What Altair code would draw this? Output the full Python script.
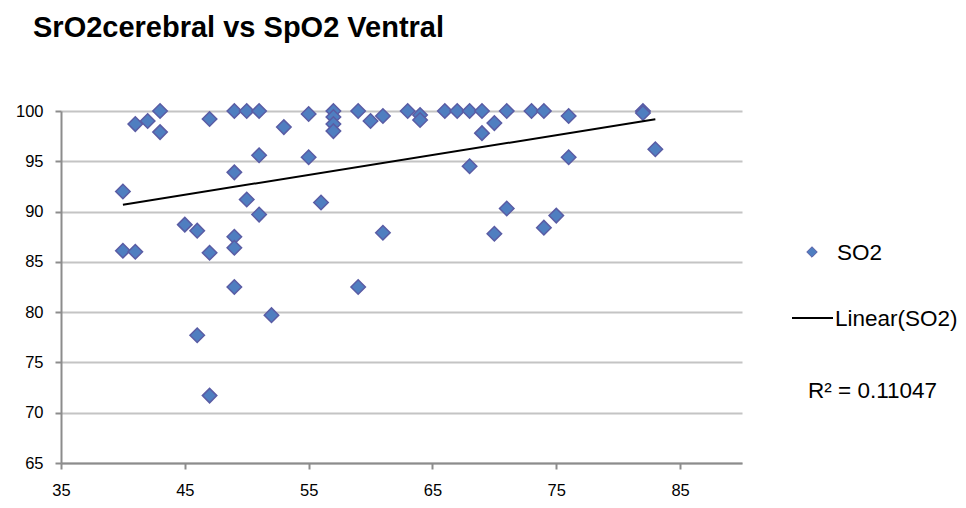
import altair as alt
import pandas as pd

# Data
x_vals = [40, 40, 41, 41, 42, 43, 43, 45, 46, 46,
          47, 47, 47, 49, 49, 49, 49, 49, 50, 50,
          51, 51, 51, 52, 53, 55, 55, 56, 57, 57,
          57, 57, 59, 59, 60, 61, 61, 63, 64, 64,
          66, 67, 68, 68, 69, 69, 70, 70, 71, 71,
          73, 74, 74, 75, 76, 76, 82, 82, 83]
y_vals = [92.0, 86.1, 86.0, 98.7, 99.0, 100.0, 97.9, 88.7, 88.1, 77.7,
          99.2, 85.9, 71.7, 100.0, 93.9, 87.5, 86.4, 82.5, 100.0, 91.2,
          100.0, 95.6, 89.7, 79.7, 98.4, 99.7, 95.4, 90.9, 100.0, 99.4,
          98.7, 98.0, 100.0, 82.5, 99.0, 99.5, 87.9, 100.0, 99.6, 99.1,
          100.0, 100.0, 100.0, 94.5, 100.0, 97.8, 98.8, 87.8, 100.0, 90.3,
          100.0, 100.0, 88.4, 89.6, 99.5, 95.4, 100.0, 99.8, 96.2]

x_ticks = [35, 45, 55, 65, 75, 85]
y_ticks = [65, 70, 75, 80, 85, 90, 95, 100]

title_text = "SrO2cerebral vs SpO2 Ventral"
legend_series = ["SO2"]
legend_trend = ["Linear(SO2)"]
r2_text = ["R\u00b2 = 0.11047"]

FONT = "Liberation Sans"
FILL = "#4F7EC0"
STROKE = "#5A5CA4"

df = pd.DataFrame({"x": x_vals, "y": y_vals})

W, H = 681, 352

xscale = alt.Scale(domain=[35, 90], nice=False, zero=False)
yscale = alt.Scale(domain=[65, 100], nice=False, zero=False)

xaxis = alt.Axis(values=x_ticks, grid=False, title=None, domainColor="#8c8c8c", domainWidth=2,
                 tickColor="#8c8c8c", tickWidth=2, tickSize=6, labelFontSize=16.5, labelFont=FONT,
                 labelColor="black", labelPadding=13, labelFlush=False, labelOverlap=False)
yaxis = alt.Axis(values=y_ticks, grid=True, gridColor="#c4c4c4", gridWidth=2, title=None,
                 domainColor="#8c8c8c", domainWidth=2, tickColor="#8c8c8c", tickWidth=2, tickSize=6,
                 labelFontSize=16.5, labelFont=FONT, labelColor="black", labelPadding=12,
                 labelFlush=False, labelOverlap=False)

base = alt.Chart(df)

points = base.mark_point(shape="diamond", filled=True, size=210, fill=FILL, stroke=STROKE,
                         strokeWidth=1.5, opacity=1).encode(
    x=alt.X("x:Q", scale=xscale, axis=xaxis),
    y=alt.Y("y:Q", scale=yscale, axis=yaxis),
)

trend = base.transform_regression("x", "y").mark_line(color="black", strokeWidth=2).encode(
    x=alt.X("x:Q", scale=xscale),
    y=alt.Y("y:Q", scale=yscale),
)

leg_sym = alt.Chart(pd.DataFrame({"t": legend_series})).mark_point(
    shape="diamond", filled=True, size=110, fill=FILL, stroke=STROKE, strokeWidth=1, opacity=1
).encode(x=alt.value(751), y=alt.value(141))

leg_txt1 = alt.Chart(pd.DataFrame({"t": legend_series})).mark_text(
    align="left", baseline="middle", fontSize=22.5, font=FONT, color="black"
).encode(x=alt.value(776), y=alt.value(142), text="t:N")

leg_line = alt.Chart(pd.DataFrame({"t": legend_trend})).mark_rule(color="black", strokeWidth=2).encode(
    x=alt.value(731), x2=alt.value(772), y=alt.value(207))

leg_txt2 = alt.Chart(pd.DataFrame({"t": legend_trend})).mark_text(
    align="left", baseline="middle", fontSize=22.5, font=FONT, color="black"
).encode(x=alt.value(774), y=alt.value(208), text="t:N")

leg_txt3 = alt.Chart(pd.DataFrame({"t": r2_text})).mark_text(
    align="left", baseline="middle", fontSize=22.5, font=FONT, color="black"
).encode(x=alt.value(747), y=alt.value(280), text="t:N")

chart = alt.layer(points, trend, leg_sym, leg_txt1, leg_line, leg_txt2, leg_txt3).properties(
    width=W, height=H,
    autosize=alt.AutoSizeParams(type="none"),
    padding={"left": 53, "top": 103, "right": 216, "bottom": 37},
    title=alt.TitleParams(title_text, anchor="start", frame="group", fontSize=29, fontWeight="bold",
                          font=FONT, color="black", dx=-28, offset=35, baseline="alphabetic"),
).configure_view(stroke=None)

chart.save("out.html", embed_options={"renderer": "svg", "actions": False})
